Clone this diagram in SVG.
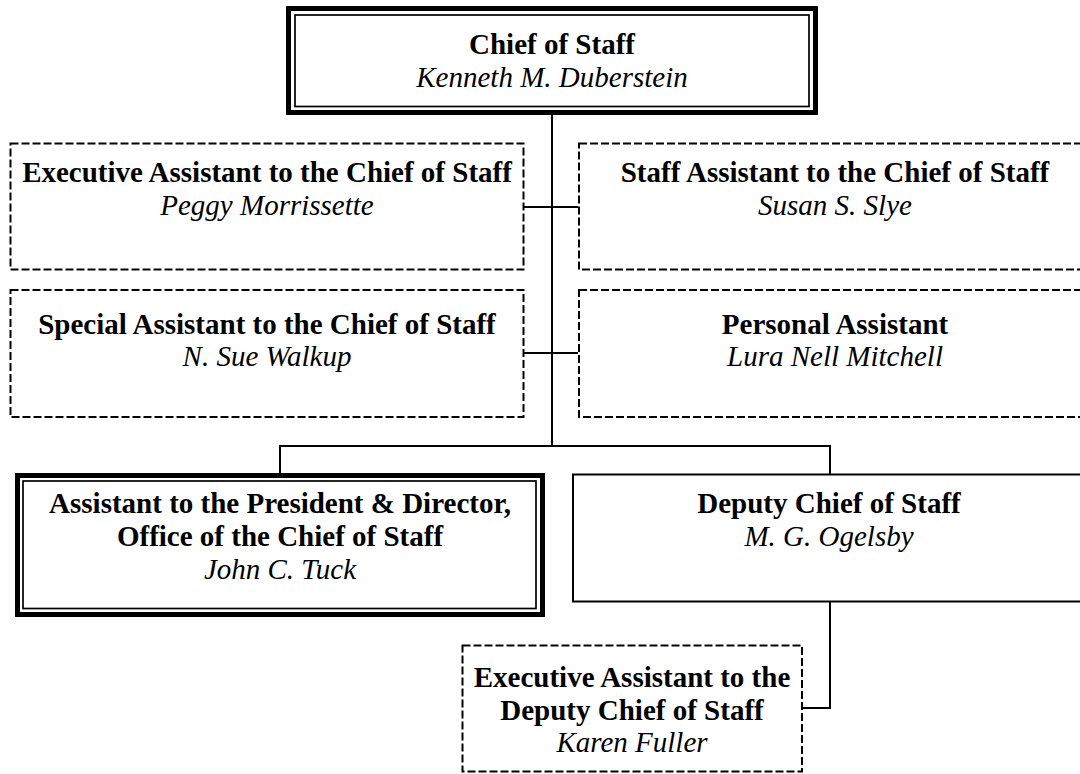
<svg xmlns="http://www.w3.org/2000/svg" width="1080" height="774" viewBox="0 0 1080 774">
<style>
.b{font-family:"Liberation Serif","Times New Roman",serif;font-size:29px;font-weight:bold;text-anchor:middle;fill:#000}
.i{font-family:"Liberation Serif","Times New Roman",serif;font-size:29px;font-style:italic;text-anchor:middle;fill:#000}
.dash{fill:#fff;stroke:#000;stroke-width:2;stroke-dasharray:8 3}
.solid{fill:#fff;stroke:#000;stroke-width:2}
.outer{fill:#fff;stroke:#000;stroke-width:5}
.inner{fill:none;stroke:#000;stroke-width:1.7}
.con{fill:none;stroke:#000;stroke-width:2}
</style>
<rect width="1080" height="774" fill="#fff"/>
<g id="connectors">
<line class="con" x1="552" y1="113" x2="552" y2="446"/>
<line class="con" x1="524" y1="207" x2="578" y2="207"/>
<line class="con" x1="524" y1="353" x2="578" y2="353"/>
<path class="con" d="M280 474 V446 H830 V474"/>
<path class="con" d="M830 602 V708 H802"/>
</g>
<g id="chief">
<rect class="outer" x="288.5" y="8.5" width="527" height="104"/>
<rect class="inner" x="295" y="15" width="514" height="91.5"/>
<text class="b" x="552" y="54">Chief of Staff</text>
<text class="i" x="552" y="87">Kenneth M. Duberstein</text>
</g>
<g id="exec-assistant">
<rect class="dash" x="10.5" y="143.5" width="513" height="126"/>
<text class="b" x="267" y="182">Executive Assistant to the Chief of Staff</text>
<text class="i" x="267" y="215">Peggy Morrissette</text>
</g>
<g id="staff-assistant">
<rect class="dash" x="579" y="143.5" width="520" height="126"/>
<text class="b" x="835" y="182">Staff Assistant to the Chief of Staff</text>
<text class="i" x="835" y="215">Susan S. Slye</text>
</g>
<g id="special-assistant">
<rect class="dash" x="10.5" y="290" width="513" height="127"/>
<text class="b" x="267" y="334">Special Assistant to the Chief of Staff</text>
<text class="i" x="267" y="366">N. Sue Walkup</text>
</g>
<g id="personal-assistant">
<rect class="dash" x="579" y="290" width="520" height="127"/>
<text class="b" x="835" y="334">Personal Assistant</text>
<text class="i" x="835" y="366">Lura Nell Mitchell</text>
</g>
<g id="assistant-president">
<rect class="outer" x="17.5" y="475.5" width="525" height="139"/>
<rect class="inner" x="23" y="481" width="513" height="127.5"/>
<text class="b" x="280" y="513">Assistant to the President &amp; Director,</text>
<text class="b" x="280" y="546">Office of the Chief of Staff</text>
<text class="i" x="280" y="579">John C. Tuck</text>
</g>
<g id="deputy">
<rect class="solid" x="573" y="474.5" width="520" height="127"/>
<text class="b" x="829" y="513">Deputy Chief of Staff</text>
<text class="i" x="829" y="546">M. G. Ogelsby</text>
</g>
<g id="exec-assistant-deputy">
<rect class="dash" x="462.5" y="645.5" width="339.5" height="126"/>
<text class="b" x="632" y="687">Executive Assistant to the</text>
<text class="b" x="632" y="720">Deputy Chief of Staff</text>
<text class="i" x="632" y="752">Karen Fuller</text>
</g>
</svg>
